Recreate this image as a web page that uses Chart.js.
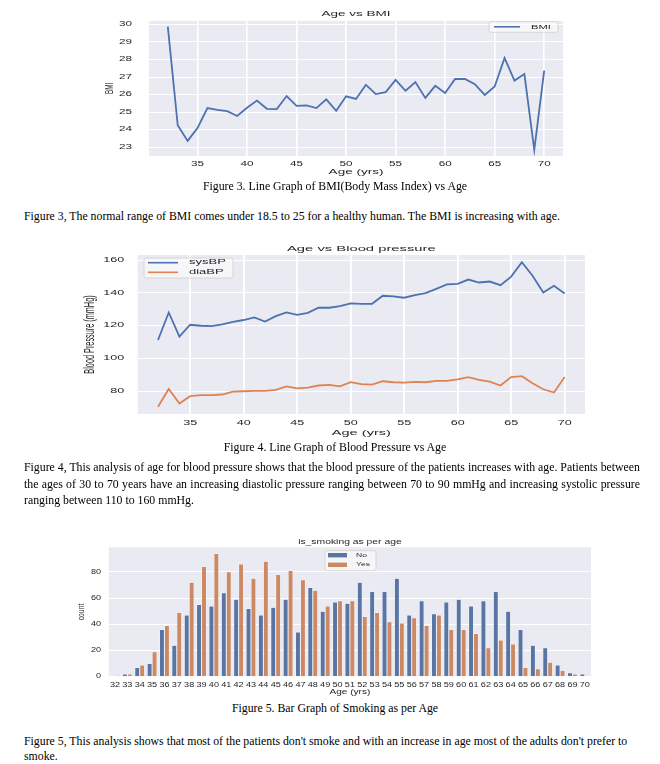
<!DOCTYPE html>
<html><head><meta charset="utf-8">
<script src="https://cdn.jsdelivr.net/npm/chart.js@4.4.1/dist/chart.umd.min.js"></script>
<style>
html,body{margin:0;padding:0;background:#fff;}
body{width:660px;height:764px;position:relative;overflow:hidden;font-family:"Liberation Serif","Times New Roman",serif;color:#000;}
canvas{position:absolute;left:0;}
.t{position:absolute;font-size:11.8px;line-height:16px;}
.c{left:5px;width:660px;text-align:center;white-space:nowrap;}
.p{left:24px;white-space:nowrap;}
.j{left:24px;width:616px;text-align:justify;text-align-last:justify;}
</style></head><body>
<canvas id="c1" width="660" height="180" style="top:0px"></canvas>
<canvas id="c2" width="660" height="205" style="top:235px"></canvas>
<canvas id="c3" width="660" height="170" style="top:530px"></canvas>

<div class="t c" style="top:178px">Figure 3. Line Graph of BMI(Body Mass Index) vs Age</div>
<div class="t p" style="top:208px">Figure 3, The normal range of BMI comes under 18.5 to 25 for a healthy human. The BMI is increasing with age.</div>
<div class="t c" style="top:439px">Figure 4. Line Graph of Blood Pressure vs Age</div>
<div class="t j" style="top:459px">Figure 4, This analysis of age for blood pressure shows that the blood pressure of the patients increases with age. Patients between</div>
<div class="t j" style="top:475.5px">the ages of 30 to 70 years have an increasing diastolic pressure ranging between 70 to 90 mmHg and increasing systolic pressure</div>
<div class="t p" style="top:492px">ranging between 110 to 160 mmHg.</div>
<div class="t c" style="top:700px">Figure 5. Bar Graph of Smoking as per Age</div>
<div class="t p" style="top:733px">Figure 5, This analysis shows that most of the patients don't smoke and with an increase in age most of the adults don't prefer to</div>
<div class="t p" style="top:748px">smoke.</div>

<script>
// ---------- data ----------
const ages = [32,33,34,35,36,37,38,39,40,41,42,43,44,45,46,47,48,49,50,51,52,53,54,55,56,57,58,59,60,61,62,63,64,65,66,67,68,69,70];
const bmiValues = [29.87,24.25,23.36,24.1,25.23,25.13,25.06,24.78,25.25,25.66,25.19,25.17,25.92,25.36,25.38,25.23,25.73,25.08,25.9,25.75,26.56,26.03,26.14,26.84,26.22,26.71,25.81,26.5,26.09,26.89,26.89,26.59,25.98,26.46,28.09,26.8,27.17,22.85,27.36];
const sysBPValues = [111.3,128.1,113.3,120.6,120,119.8,120.8,122.4,123.5,125.1,122.6,125.9,128.1,126.7,127.9,131,131,132,133.6,133.4,133.4,138.3,137.9,137.1,138.7,139.9,142.5,145.2,145.6,148.2,146.4,147,144.8,150,158.8,150.5,140.3,144.4,139.7];
const diaBPValues = [70.5,81.4,72.5,77,77.6,77.6,78,79.8,80,80.2,80.2,80.8,83,81.8,82.2,83.5,83.9,83,85.5,84.3,84.1,86.1,85.5,85.3,85.7,85.5,86.3,86.3,87.3,88.6,86.9,85.9,83.5,88.6,89.2,84.9,81.2,79.2,88.7];
const smokeNo = [0,2,7,10,36,24,47,55,54,64,59,52,47,53,59,34,68,50,57,56,72,65,65,75,47,58,48,57,59,54,58,65,50,36,24,22,9,3,2];
const smokeYes = [1,2,9,19,39,49,72,84,94,80,86,75,88,78,81,74,66,54,58,58,46,49,42,41,45,39,47,36,36,33,22,28,25,7,6,11,5,2,0];
const ageTicks = [35,40,45,50,55,60,65,70];
const bmiTicks = [23,24,25,26,27,28,29,30];
const bpTicks = [80,100,120,140,160];
const countTicks = [0,20,40,60,80];

// ---------- helpers ----------
const BLUE = '#4C72B0', ORANGE = '#DD8452';
const BAR_BLUE = '#5875A4', BAR_ORANGE = '#CC8963';
const TXT = '#262626';
const FAM = '"Liberation Sans", Arial, sans-serif';
Chart.defaults.font.family = FAM;
Chart.defaults.color = TXT;

const stretchPlugin = {
  id: 'stretch',
  beforeInit(chart, args, opts) {
    const ctx = chart.ctx, sx = opts.sx || 1;
    const orig = ctx.fillText;
    ctx.fillText = function (text, x, y, maxWidth) {
      const m = this.getTransform();
      this.save();
      this.translate(x, y);
      if (Math.abs(m.b) > Math.abs(m.a)) this.scale(1, sx); else this.scale(sx, 1);
      if (maxWidth === undefined || maxWidth === null) orig.call(this, text, 0, 0);
      else orig.call(this, text, 0, 0, maxWidth / sx);
      this.restore();
    };
  }
};
const bgPlugin = {
  id: 'plotBg',
  beforeDraw(chart) {
    const {ctx, chartArea: a} = chart;
    ctx.save(); ctx.fillStyle = '#EAEAF2';
    ctx.fillRect(a.left, a.top, a.right - a.left, a.bottom - a.top);
    ctx.restore();
  }
};
function rrect(ctx, x, y, w, h, r) {
  ctx.beginPath();
  ctx.moveTo(x + r, y); ctx.lineTo(x + w - r, y); ctx.quadraticCurveTo(x + w, y, x + w, y + r);
  ctx.lineTo(x + w, y + h - r); ctx.quadraticCurveTo(x + w, y + h, x + w - r, y + h);
  ctx.lineTo(x + r, y + h); ctx.quadraticCurveTo(x, y + h, x, y + h - r);
  ctx.lineTo(x, y + r); ctx.quadraticCurveTo(x, y, x + r, y); ctx.closePath();
}
const decorPlugin = {
  id: 'decor',
  afterDraw(chart, args, o) {
    const ctx = chart.ctx, a = chart.chartArea;
    ctx.save();
    ctx.fillStyle = TXT; ctx.textAlign = 'center'; ctx.textBaseline = 'middle';
    ctx.font = o.titleSize + 'px ' + FAM;
    ctx.fillText(o.title, (a.left + a.right) / 2, o.titleY);
    const L = o.legend;
    rrect(ctx, L.x, L.y, L.w, L.h, 2);
    ctx.fillStyle = 'rgba(255,255,255,0.55)'; ctx.fill();
    ctx.strokeStyle = '#CFCFCF'; ctx.lineWidth = 0.8; ctx.stroke();
    ctx.font = L.size + 'px ' + FAM; ctx.textAlign = 'left';
    chart.data.datasets.forEach((ds, i) => {
      const cy = L.rowY[i];
      if (L.kind === 'line') {
        ctx.strokeStyle = ds.borderColor; ctx.lineWidth = 1.6;
        ctx.beginPath(); ctx.moveTo(L.sx0, cy); ctx.lineTo(L.sx1, cy); ctx.stroke();
      } else {
        ctx.fillStyle = ds.backgroundColor;
        ctx.fillRect(L.sx0, cy - 2.2, L.sx1 - L.sx0, 4.4);
      }
      ctx.fillStyle = TXT;
      ctx.fillText(ds.label, L.tx, cy);
    });
    ctx.restore();
  }
};
const fixedTicks = arr => (s => { s.ticks = arr.map(v => ({value: v})); });

// ---------- chart 1: Age vs BMI ----------
new Chart(document.getElementById('c1'), {
  type: 'line',
  data: { datasets: [{ label: 'BMI', data: ages.map((a, i) => ({x: a, y: bmiValues[i]})),
    borderColor: BLUE, borderWidth: 1.8, pointRadius: 0, tension: 0 }] },
  options: {
    animation: false, responsive: false, events: [],
    layout: { padding: { left: 100, right: 97, top: 19, bottom: 0 } },
    plugins: { legend: {display: false}, tooltip: {enabled: false}, stretch: {sx: 1.8},
      decor: { title: 'Age vs BMI', titleSize: 7.5, titleY: 14.3,
        legend: { kind: 'line', x: 489, y: 21.7, w: 69, h: 10.6, sx0: 494, sx1: 520, tx: 531, rowY: [26.8], size: 6.2 } } },
    scales: {
      x: { type: 'linear', min: 30.1, max: 71.9, afterBuildTicks: fixedTicks(ageTicks), afterFit: s => { s.height = 24; },
        grid: { color: '#fff', lineWidth: 1.6, drawTicks: false }, border: { display: false },
        ticks: { font: { size: 6.5 }, padding: 4.1, maxRotation: 0, autoSkip: false },
        title: { display: true, text: 'Age (yrs)', font: { size: 7.5 }, padding: { top: 0, bottom: 3.8 } } },
      y: { min: 22.5, max: 30.2, afterBuildTicks: fixedTicks(bmiTicks), afterFit: s => { s.width = 49; },
        grid: { color: '#fff', lineWidth: 1, drawTicks: false }, border: { display: false },
        ticks: { font: { size: 6.5 }, padding: 17 },
        title: { display: true, text: 'BMI', font: { size: 6.3 }, padding: { top: 6.2, bottom: 0 } } }
    }
  },
  plugins: [stretchPlugin, bgPlugin, decorPlugin]
});

// ---------- chart 2: Age vs Blood pressure ----------
new Chart(document.getElementById('c2'), {
  type: 'line',
  data: { datasets: [
    { label: 'sysBP', data: ages.map((a, i) => ({x: a, y: sysBPValues[i]})), borderColor: BLUE, borderWidth: 1.8, pointRadius: 0, tension: 0 },
    { label: 'diaBP', data: ages.map((a, i) => ({x: a, y: diaBPValues[i]})), borderColor: ORANGE, borderWidth: 1.8, pointRadius: 0, tension: 0 }
  ] },
  options: {
    animation: false, responsive: false, events: [],
    layout: { padding: { left: 80, right: 75, top: 20, bottom: 0 } },
    plugins: { legend: {display: false}, tooltip: {enabled: false}, stretch: {sx: 2},
      decor: { title: 'Age vs Blood pressure', titleSize: 7.4, titleY: 14,
        legend: { kind: 'line', x: 144, y: 23, w: 89, h: 20, sx0: 148, sx1: 178, tx: 189, rowY: [27.7, 37.3], size: 6.5 } } },
    scales: {
      x: { type: 'linear', min: 30.1, max: 71.9, afterBuildTicks: fixedTicks(ageTicks), afterFit: s => { s.height = 26; },
        grid: { color: '#fff', lineWidth: 1.8, drawTicks: false }, border: { display: false },
        ticks: { font: { size: 6.3 }, padding: 5.2, maxRotation: 0, autoSkip: false },
        title: { display: true, text: 'Age (yrs)', font: { size: 7.3 }, padding: { top: 0, bottom: 2.6 } } },
      y: { min: 66.1, max: 163.2, afterBuildTicks: fixedTicks(bpTicks), afterFit: s => { s.width = 57.7; },
        grid: { color: '#fff', lineWidth: 1, drawTicks: false }, border: { display: false },
        ticks: { font: { size: 6.3 }, padding: 13.4 },
        title: { display: true, text: 'Blood Pressure (mmHg)', font: { size: 7.3 }, padding: { top: 5.6, bottom: 0 } } }
    }
  },
  plugins: [stretchPlugin, bgPlugin, decorPlugin]
});

// ---------- chart 3: is_smoking as per age ----------
new Chart(document.getElementById('c3'), {
  type: 'bar',
  data: { labels: ages.map(String), datasets: [
    { label: 'No', data: smokeNo, backgroundColor: BAR_BLUE, borderColor: '#fff', borderWidth: 0.5, categoryPercentage: 0.8, barPercentage: 1.0 },
    { label: 'Yes', data: smokeYes, backgroundColor: BAR_ORANGE, borderColor: '#fff', borderWidth: 0.5, categoryPercentage: 0.8, barPercentage: 1.0 }
  ] },
  options: {
    animation: false, responsive: false, events: [],
    layout: { padding: { left: 70, right: 69, top: 17.3, bottom: 0 } },
    plugins: { legend: {display: false}, tooltip: {enabled: false}, stretch: {sx: 1.4},
      decor: { title: 'is_smoking as per age', titleSize: 7.4, titleY: 12,
        legend: { kind: 'patch', x: 325, y: 20.7, w: 51, h: 20, sx0: 328, sx1: 347, tx: 356, rowY: [25.2, 34.8], size: 6.1 } } },
    scales: {
      x: { afterFit: s => { s.height = 23.3; },
        grid: { display: false, drawTicks: false }, border: { display: false },
        ticks: { font: { size: 6.5 }, padding: 4.4, maxRotation: 0, autoSkip: false },
        title: { display: true, text: 'Age (yrs)', font: { size: 7.2 }, padding: { top: 0, bottom: 3.2 } } },
      y: { min: 0, max: 98.7, afterBuildTicks: fixedTicks(countTicks), afterFit: s => { s.width = 38.8; },
        grid: { color: '#fff', lineWidth: 1, drawTicks: false }, border: { display: false },
        ticks: { font: { size: 6.5 }, padding: 7.8 },
        title: { display: true, text: 'count', font: { size: 6.8 }, padding: { top: 6.9, bottom: 0 } } }
    }
  },
  plugins: [stretchPlugin, bgPlugin, decorPlugin]
});
</script>
</body></html>
